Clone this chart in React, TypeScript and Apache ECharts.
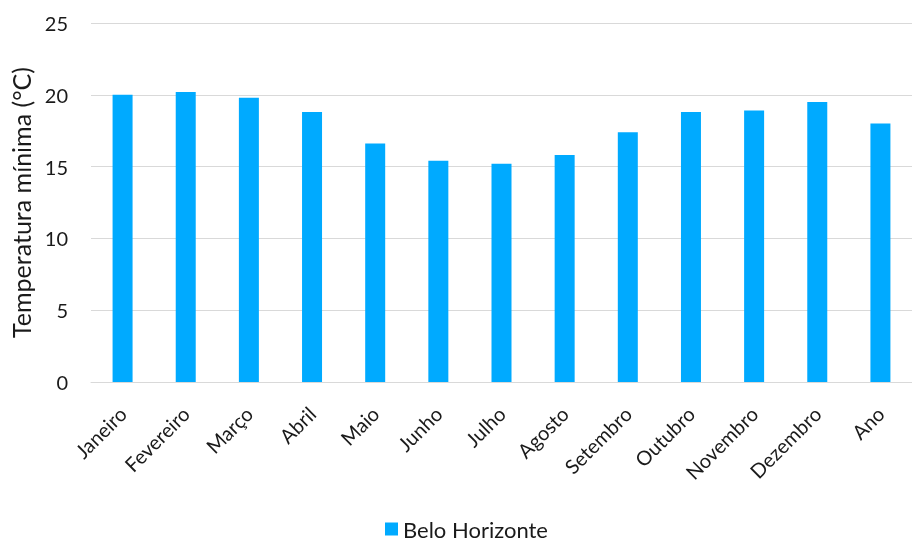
import React, { useEffect, useRef } from "react";
import * as echarts from "echarts";

const categories = ["Janeiro", "Fevereiro", "Março", "Abril", "Maio", "Junho", "Julho", "Agosto", "Setembro", "Outubro", "Novembro", "Dezembro", "Ano"];
const values = [20.0, 20.2, 19.8, 18.8, 16.6, 15.4, 15.2, 15.8, 17.4, 18.8, 18.9, 19.5, 18.0];
const seriesName = "Belo Horizonte";
const yAxisName = "Temperatura mínima (°C)";

const FONT = "Lato, 'Noto Sans', sans-serif";
const TEXT = "#1a1a1a";

export default function App() {
  const ref = useRef<HTMLDivElement>(null);
  useEffect(() => {
    if (!ref.current) return;
    const chart = echarts.init(ref.current, null, { renderer: "svg" });
    chart.setOption({
      animation: false,
      textStyle: { fontFamily: FONT },
      grid: { left: 91, right: -12, top: 23, bottom: 159, containLabel: false },
      legend: {
        top: 518,
        left: 385,
        padding: 0,
        itemWidth: 13,
        itemHeight: 13,
        icon: "rect",
        itemGap: 10,
        itemTextGap: 7,
        textStyle: { fontSize: 22, lineHeight: 22, color: TEXT, fontFamily: FONT },
        data: [seriesName],
      },
      xAxis: {
        type: "category",
        data: categories,
        axisLine: { show: true, lineStyle: { color: "#d9d9d9", width: 1 } },
        axisTick: { show: false },
        axisLabel: { rotate: 45, fontSize: 20, color: TEXT, fontFamily: FONT, margin: 28, interval: 0 },
      },
      yAxis: {
        type: "value",
        min: 0,
        max: 25,
        interval: 5,
        name: yAxisName,
        nameLocation: "middle",
        nameGap: 55,
        nameTextStyle: { fontSize: 25, color: TEXT, fontFamily: FONT },
        axisLine: { show: false },
        axisTick: { show: false },
        axisLabel: { fontSize: 20, color: TEXT, fontFamily: FONT, margin: 23 },
        splitLine: { lineStyle: { color: "#d9d9d9", width: 1 } },
      },
      series: [
        {
          name: seriesName,
          type: "bar",
          data: values,
          barWidth: 20,
          itemStyle: { color: "#00aaff" },
        },
      ],
    });
    return () => chart.dispose();
  }, []);
  return <div ref={ref} style={{ position: "fixed", left: 0, top: 0, width: 912, height: 541 }} />;
}
